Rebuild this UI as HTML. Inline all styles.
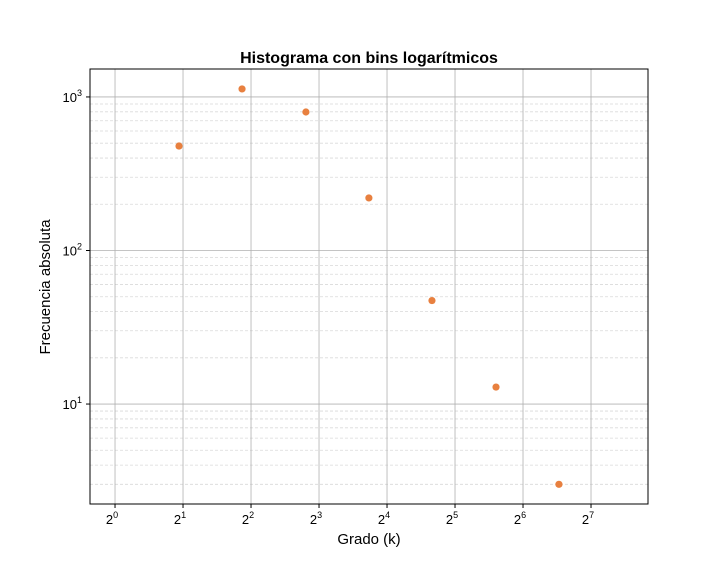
<!DOCTYPE html>
<html><head><meta charset="utf-8"><style>
body{margin:0;background:#fff;}
svg{display:block;font-family:"Liberation Sans","DejaVu Sans",sans-serif;}
</style></head><body>
<svg id="chart" width="720" height="576"></svg>
<script>
const degrees=[1.92,3.65,7.0,13.3,25.3,48.6,92.3];
const counts=[479,1128,798,220,47.2,12.9,3.0];
const xTickExps=[0,1,2,3,4,5,6,7];
const yTickExps=[1,2,3];
const L=90,R=648,T=69,B=504;
const xMin=-0.368,xMax=7.838,yMin=0.349,yMax=3.182;
function sx(v){return L+(Math.log2(v)-xMin)/(xMax-xMin)*(R-L);}
function sy(v){return B-(Math.log10(v)-yMin)/(yMax-yMin)*(B-T);}
const svg=document.getElementById('chart');
const NS='http://www.w3.org/2000/svg';
function mk(tag,attrs,parent){const e=document.createElementNS(NS,tag);for(const k in attrs)e.setAttribute(k,attrs[k]);(parent||svg).appendChild(e);return e;}
const grid=mk('g',{});


for(let d=0;d<4;d++){for(let m=2;m<=9;m++){const v=m*Math.pow(10,d);const lv=Math.log10(v);if(lv<yMin||lv>yMax)continue;const y=sy(v);
const l=mk('line',{x1:L,x2:R,y1:y,y2:y,stroke:'#d9d9d9','stroke-width':0.8,'stroke-dasharray':'3,2'},grid);

}}
yTickExps.forEach(e=>{const y=sy(Math.pow(10,e));
const l=mk('line',{x1:L,x2:R,y1:y,y2:y,stroke:'#b0b0b0','stroke-width':0.8},grid);


mk('line',{x1:L-4,x2:L,y1:y,y2:y,stroke:'#000'});
const t=mk('text',{x:L-8,y:y+5,'text-anchor':'end','font-size':13});


t.innerHTML='10<tspan dy="-6" font-size="9">'+e+'</tspan>';});
xTickExps.forEach(e=>{const x=sx(Math.pow(2,e));
const l=mk('line',{x1:x,x2:x,y1:T,y2:B,stroke:'#b0b0b0','stroke-width':0.8},grid);


mk('line',{x1:x,x2:x,y1:B,y2:B+4,stroke:'#000'});
const t=mk('text',{x:x-3,y:B+20,'text-anchor':'middle','font-size':13});


t.innerHTML='2<tspan dy="-6" font-size="9">'+e+'</tspan>';});
const fr=mk('rect',{x:L,y:T,width:R-L,height:B-T,fill:'none',stroke:'#000','stroke-width':1});


degrees.forEach((d,i)=>{const c=mk('circle',{cx:sx(d),cy:sy(counts[i]),r:3.6,fill:'#e8803f'});

});
const title=mk('text',{x:369,y:63,'text-anchor':'middle','font-size':16,'font-weight':'bold'});


title.textContent='Histograma con bins logarítmicos';
const xl=mk('text',{x:369,y:544,'text-anchor':'middle','font-size':15});


xl.textContent='Grado (k)';
const yl=mk('text',{x:50,y:287,'text-anchor':'middle','font-size':15,transform:'rotate(-90 50 287)'});


yl.textContent='Frecuencia absoluta';
</script>
</body></html>
